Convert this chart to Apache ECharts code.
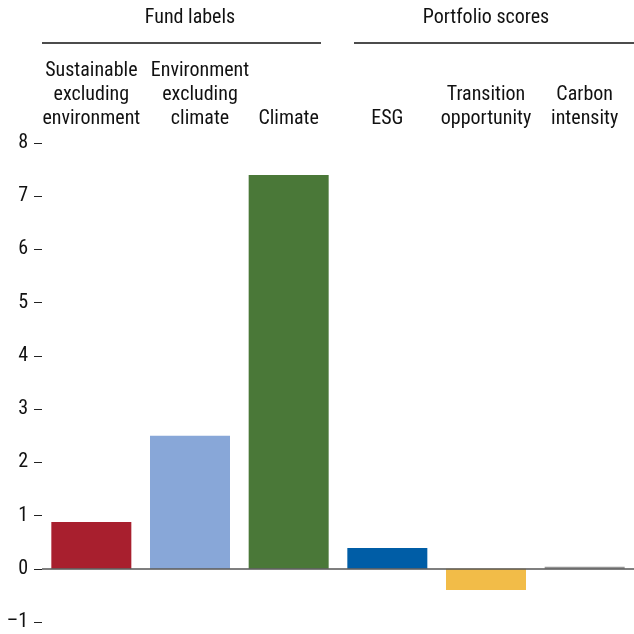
<!DOCTYPE html>
<html><head><meta charset="utf-8">
<script src="https://cdn.jsdelivr.net/npm/echarts@6/dist/echarts.min.js"></script>
<style>html,body{margin:0;padding:0;background:#fff}#c{width:634px;height:634px}</style>
</head><body><div id="c"></div>
<script>
var categories = ['Sustainable\nexcluding\nenvironment', 'Environment\nexcluding\nclimate', 'Climate', 'ESG', 'Transition\nopportunity', 'Carbon\nintensity'];
var values = [0.88, 2.5, 7.4, 0.39, -0.4, 0.04];
var barColors = ['#A81F2E', '#88A7D8', '#4A7838', '#005DA6', '#F2BC48', '#949494'];
var groupNames = ['Fund labels', 'Portfolio scores'];
var yTicks = { min: -1, max: 8, interval: 1 };

var FONT = 'Roboto, sans-serif';
var FS = 20;
var chart = echarts.init(document.getElementById('c'));
var gridLeft = 42, gridRight = 0;
var W = 634;
var band = (W - gridLeft - gridRight) / categories.length;
var g1a = gridLeft, g1b = gridLeft + band * 3 - 17;
var g2a = gridLeft + band * 3 + 16, g2b = W;

chart.setOption({
  animation: false,
  textStyle: { fontFamily: FONT },
  grid: { left: gridLeft, right: gridRight, top: 143, bottom: 12, containLabel: false },
  xAxis: {
    type: 'category', position: 'top',
    data: categories.map(function (c, i) {
      return i === 1 ? { value: c, textStyle: { padding: [0, 0, 0, 20] } } : c;
    }),
    axisLine: { show: false }, axisTick: { show: false },
    axisLabel: { interval: 0, fontFamily: FONT, fontStyle: 'condensed', fontSize: FS, color: '#111', lineHeight: 24, margin: 12, verticalAlign: 'bottom' }
  },
  yAxis: {
    type: 'value', min: yTicks.min, max: yTicks.max, interval: yTicks.interval,
    splitLine: { show: false }, axisLine: { show: false },
    axisTick: { show: true, length: 8, lineStyle: { color: '#222', width: 1 } },
    axisLabel: { fontFamily: FONT, fontStyle: 'condensed', fontSize: FS, color: '#111', margin: 14,
      formatter: function (v) { return v < 0 ? '\u2013' + Math.abs(v) : String(v); } }
  },
  series: [{
    type: 'bar', barWidth: 80,
    data: values.map(function (v, i) { return { value: v, itemStyle: { color: barColors[i] } }; }),
    markLine: {
      silent: true, symbol: 'none', label: { show: false },
      lineStyle: { color: '#555', width: 1.5, type: 'solid' },
      data: [{ yAxis: 0 }]
    }
  }],
  graphic: [
    { type: 'text', x: gridLeft + band * 1.5, y: 18, style: { text: groupNames[0], font: 'condensed ' + FS + 'px ' + FONT, fill: '#111', align: 'center', verticalAlign: 'middle' } },
    { type: 'line', shape: { x1: g1a, y1: 43, x2: g1b, y2: 43 }, style: { stroke: '#111', lineWidth: 1.5 } },
    { type: 'text', x: gridLeft + band * 4.5, y: 18, style: { text: groupNames[1], font: 'condensed ' + FS + 'px ' + FONT, fill: '#111', align: 'center', verticalAlign: 'middle' } },
    { type: 'line', shape: { x1: g2a, y1: 43, x2: g2b, y2: 43 }, style: { stroke: '#111', lineWidth: 1.5 } }
  ]
});
</script></body></html>
